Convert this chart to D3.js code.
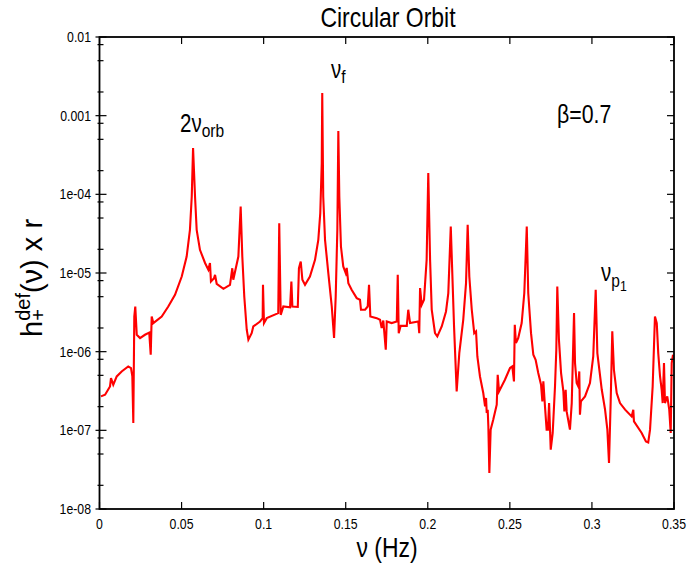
<!DOCTYPE html>
<html><head><meta charset="utf-8">
<script src="https://cdn.jsdelivr.net/npm/d3@7/dist/d3.min.js"></script>
<style>body{margin:0;background:#fff;} svg{display:block;}</style>
</head><body>
<script>
// ---- data ----
const freq = [
0.0009,0.0034,0.0064,0.0070,0.0084,0.0105,0.0135,0.0175,0.0192,0.0200,
0.0206,0.0212,0.0218,0.0227,0.0247,0.0277,0.0303,0.0312,0.0318,0.0328,
0.0379,0.0419,0.0460,0.0501,0.0531,0.0551,0.0562,0.0570,0.0582,0.0592,
0.0612,0.0643,0.0663,0.0673,0.0679,0.0698,0.0704,0.0714,0.0755,0.0795,
0.0809,0.0815,0.0846,0.0860,0.0870,0.0882,0.0897,0.0907,0.0927,0.0937,
0.0978,0.0994,0.0996,0.1002,0.1019,0.1089,0.1095,0.1104,0.1120,0.1161,
0.1169,0.1175,0.1208,0.1215,0.1226,0.1236,0.1252,0.1282,0.1313,0.1333,
0.1345,0.1354,0.1357,0.1363,0.1374,0.1394,0.1415,0.1429,0.1439,0.1449,
0.1455,0.1461,0.1471,0.1485,0.1500,0.1506,0.1516,0.1536,0.1567,0.1587,
0.1593,0.1618,0.1634,0.1642,0.1650,0.1689,0.1709,0.1719,0.1729,0.1744,
0.1750,0.1780,0.1811,0.1817,0.1823,0.1835,0.1872,0.1881,0.1892,0.1942,
0.1948,0.1953,0.1963,0.1977,0.1993,0.2003,0.2014,0.2024,0.2044,0.2058,
0.2085,0.2111,0.2125,0.2140,0.2152,0.2160,0.2176,0.2192,0.2216,0.2233,
0.2243,0.2253,0.2268,0.2283,0.2294,0.2302,0.2318,0.2338,0.2349,0.2355,
0.2359,0.2365,0.2369,0.2375,0.2383,0.2399,0.2420,0.2426,0.2434,0.2470,
0.2501,0.2515,0.2525,0.2530,0.2537,0.2551,0.2572,0.2588,0.2603,0.2612,
0.2629,0.2643,0.2657,0.2673,0.2690,0.2698,0.2704,0.2714,0.2724,0.2732,
0.2739,0.2749,0.2761,0.2775,0.2783,0.2789,0.2799,0.2812,0.2826,0.2832,
0.2840,0.2846,0.2866,0.2877,0.2891,0.2897,0.2907,0.2917,0.2923,0.2927,
0.2933,0.2958,0.2988,0.3008,0.3023,0.3033,0.3060,0.3080,0.3094,0.3104,
0.3114,0.3124,0.3134,0.3151,0.3171,0.3202,0.3242,0.3252,0.3256,0.3303,
0.3329,0.3343,0.3354,0.3370,0.3384,0.3395,0.3404,0.3415,0.3425,0.3431,
0.3439,0.3445,0.3459,0.3471,0.3480,0.3486,0.3494];

const hdef = [
2.70e-7,2.84e-7,3.61e-7,4.62e-7,3.80e-7,4.84e-7,5.61e-7,6.49e-7,6.19e-7,4.84e-7,
1.24e-7,2.80e-6,3.75e-6,1.64e-6,1.49e-6,1.64e-6,1.75e-6,9.14e-7,2.80e-6,2.31e-6,
2.80e-6,3.75e-6,5.28e-6,9.02e-6,1.62e-5,3.54e-5,9.37e-5,3.89e-4,9.37e-5,3.54e-5,
1.97e-5,1.34e-5,1.10e-5,1.34e-5,7.80e-6,8.61e-6,9.48e-6,7.29e-6,6.30e-6,7.08e-6,
1.15e-5,8.20e-6,1.62e-5,7.00e-5,1.62e-5,5.03e-6,1.90e-6,1.42e-6,1.72e-6,2.09e-6,
2.42e-6,2.67e-6,7.08e-6,2.31e-6,2.67e-6,3.09e-6,4.30e-5,2.94e-6,3.75e-6,3.67e-6,
7.80e-6,3.75e-6,3.70e-6,1.15e-5,1.40e-5,8.20e-6,7.08e-6,9.02e-6,1.47e-5,2.64e-5,
5.77e-5,2.49e-4,1.94e-3,9.37e-5,2.64e-5,9.97e-6,3.75e-6,1.49e-6,5.03e-6,3.54e-5,
6.40e-4,9.37e-5,2.17e-5,1.21e-5,9.97e-6,1.16e-5,7.44e-6,6.12e-6,4.80e-6,4.57e-6,
3.41e-6,3.41e-6,3.75e-6,7.08e-6,2.80e-6,2.67e-6,2.54e-6,2.00e-6,2.49e-6,1.06e-6,
2.42e-6,2.31e-6,2.42e-6,9.48e-6,1.72e-6,2.13e-6,2.13e-6,3.41e-6,2.31e-6,2.42e-6,
1.72e-6,6.43e-6,3.94e-6,4.57e-6,1.47e-5,1.86e-4,1.47e-5,3.41e-6,1.72e-6,1.56e-6,
2.09e-6,3.24e-6,5.56e-6,3.90e-5,6.74e-6,2.09e-6,3.13e-7,9.60e-7,2.54e-6,7.44e-6,
4.09e-5,9.02e-6,3.41e-6,1.72e-6,1.81e-6,8.69e-7,4.84e-7,2.98e-7,2.01e-7,2.58e-7,
1.66e-7,1.83e-7,1.12e-7,2.87e-8,1.02e-7,1.37e-7,2.12e-7,5.09e-7,3.13e-7,4.40e-7,
6.19e-7,6.49e-7,4.19e-7,2.20e-6,1.29e-6,1.49e-6,2.31e-6,5.56e-6,3.90e-5,5.56e-6,
1.72e-6,9.14e-7,7.89e-7,5.35e-7,3.80e-7,2.33e-7,4.19e-7,2.01e-7,1.02e-7,1.02e-7,
2.22e-7,5.68e-8,9.25e-8,3.61e-7,1.06e-6,6.74e-6,1.42e-6,5.35e-7,3.13e-7,1.74e-7,
3.28e-7,1.74e-7,1.02e-7,2.22e-7,3.09e-6,7.16e-7,3.99e-7,3.61e-7,5.61e-7,1.58e-7,
2.33e-7,2.70e-7,3.99e-7,8.69e-7,6.12e-6,9.60e-7,3.28e-7,1.83e-7,1.02e-7,3.85e-8,
2.22e-7,1.81e-6,5.89e-7,2.98e-7,2.22e-7,1.83e-7,1.50e-7,1.83e-7,1.30e-7,9.25e-8,
7.24e-8,7.00e-8,1.02e-7,3.61e-7,2.80e-6,2.31e-6,9.60e-7,4.84e-7,3.28e-7,2.22e-7,
7.16e-7,2.22e-7,2.70e-7,1.83e-7,9.25e-8,7.16e-7,9.14e-7];

const xTicks = [0, 0.05, 0.1, 0.15, 0.2, 0.25, 0.3, 0.35];
const xTickLabels = ["0","0.05","0.1","0.15","0.2","0.25","0.3","0.35"];
const yTicks = [1e-2, 1e-3, 1e-4, 1e-5, 1e-6, 1e-7, 1e-8];
const yTickLabels = ["0.01","0.001","1e-04","1e-05","1e-06","1e-07","1e-08"];
const yMinorMult = [2, 5, 8];

// ---- layout ----
const W = 688, H = 565;
const L = 99.5, R = 674, T = 37, B = 509;
const SX = 0.82; // horizontal compression of the condensed text
const FONT = "'Liberation Sans', Arial, Helvetica, sans-serif";

const svg = d3.select("body").append("svg").attr("width", W).attr("height", H);

const x = d3.scaleLinear().domain([0, 0.35]).range([L, R]);
const y = d3.scaleLog().domain([1e-8, 1e-2]).range([B, T]);

function ntext(px, py, anchor, size) {
  const g = svg.append("g").attr("transform", `translate(${px},${py}) scale(${SX},1)`);
  return g.append("text").attr("text-anchor", anchor)
    .style("font-family", FONT).style("font-size", size + "px").attr("fill", "#000");
}

// ---- curve ----
svg.append("clipPath").attr("id", "clip").append("rect")
  .attr("x", L).attr("y", T).attr("width", R - L).attr("height", B - T);
const pts = freq.map((f, i) => [f, hdef[i]]);
const line = d3.line().x(d => x(d[0])).y(d => y(d[1]));
svg.append("path").datum(pts).attr("d", line)
  .attr("fill", "none").attr("stroke", "#ff0000").attr("stroke-width", 2.1)
  .attr("stroke-linejoin", "miter").attr("clip-path", "url(#clip)");

// ---- ticks ----
const tk = svg.append("g").attr("stroke", "#000").attr("stroke-width", 1.2);
xTicks.forEach(v => {
  const px = x(v);
  tk.append("line").attr("x1", px).attr("x2", px).attr("y1", B).attr("y2", B - 7);
  tk.append("line").attr("x1", px).attr("x2", px).attr("y1", T).attr("y2", T + 7);
});
yTicks.forEach(v => {
  const py = y(v);
  tk.append("line").attr("x1", L - 4).attr("x2", L + 7).attr("y1", py).attr("y2", py);
  tk.append("line").attr("x1", R).attr("x2", R - 7).attr("y1", py).attr("y2", py);
});
for (let e = -8; e <= -3; e++) {
  yMinorMult.forEach(m => {
    const v = m * Math.pow(10, e);
    const py = y(v);
    tk.append("line").attr("x1", L - 2).attr("x2", L + 4).attr("y1", py).attr("y2", py);
    tk.append("line").attr("x1", R).attr("x2", R - 4).attr("y1", py).attr("y2", py);
  });
}

// frame
svg.append("rect").attr("x", L).attr("y", T).attr("width", R - L).attr("height", B - T)
  .attr("fill", "none").attr("stroke", "#000").attr("stroke-width", 1.8);

// ---- tick labels ----
xTicks.forEach((v, i) => ntext(x(v), 529, "middle", 15).text(xTickLabels[i]));
yTicks.forEach((v, i) => ntext(91, y(v) + 5, "end", 15).text(yTickLabels[i]));

// ---- titles ----
ntext(388, 27, "middle", 28).text("Circular Orbit");
ntext(387, 557, "middle", 28).text("ν (Hz)");

// y label (rotated, not compressed)
const yl = svg.append("g").attr("transform", "translate(41.5,337) rotate(-90)")
  .append("text").attr("text-anchor", "start")
  .style("font-family", FONT).style("font-size", "29px").attr("fill", "#000");
yl.append("tspan").text("h");
const plus = yl.append("tspan").style("font-size", "20px").attr("dy", 3).text("+");
const pw = plus.node().getComputedTextLength();
yl.append("tspan").style("font-size", "20px").attr("dx", -pw).attr("dy", -14.5).text("def");
yl.append("tspan").attr("dy", 11.5).text("(ν) x r");

// ---- annotations ----
const a1 = ntext(180, 132, "start", 25);
a1.append("tspan").text("2ν");
a1.append("tspan").style("font-size", "19px").attr("dy", 5).text("orb");

const a2 = ntext(331, 78, "start", 25);
a2.append("tspan").text("ν");
a2.append("tspan").style("font-size", "19px").attr("dy", 5).text("f");

ntext(557, 123, "start", 26).text("β=0.7");

const a4 = ntext(601, 281, "start", 25);
a4.append("tspan").text("ν");
a4.append("tspan").style("font-size", "19px").attr("dy", 6).text("p");
a4.append("tspan").style("font-size", "15px").attr("dy", 4).text("1");
</script>
</body></html>
